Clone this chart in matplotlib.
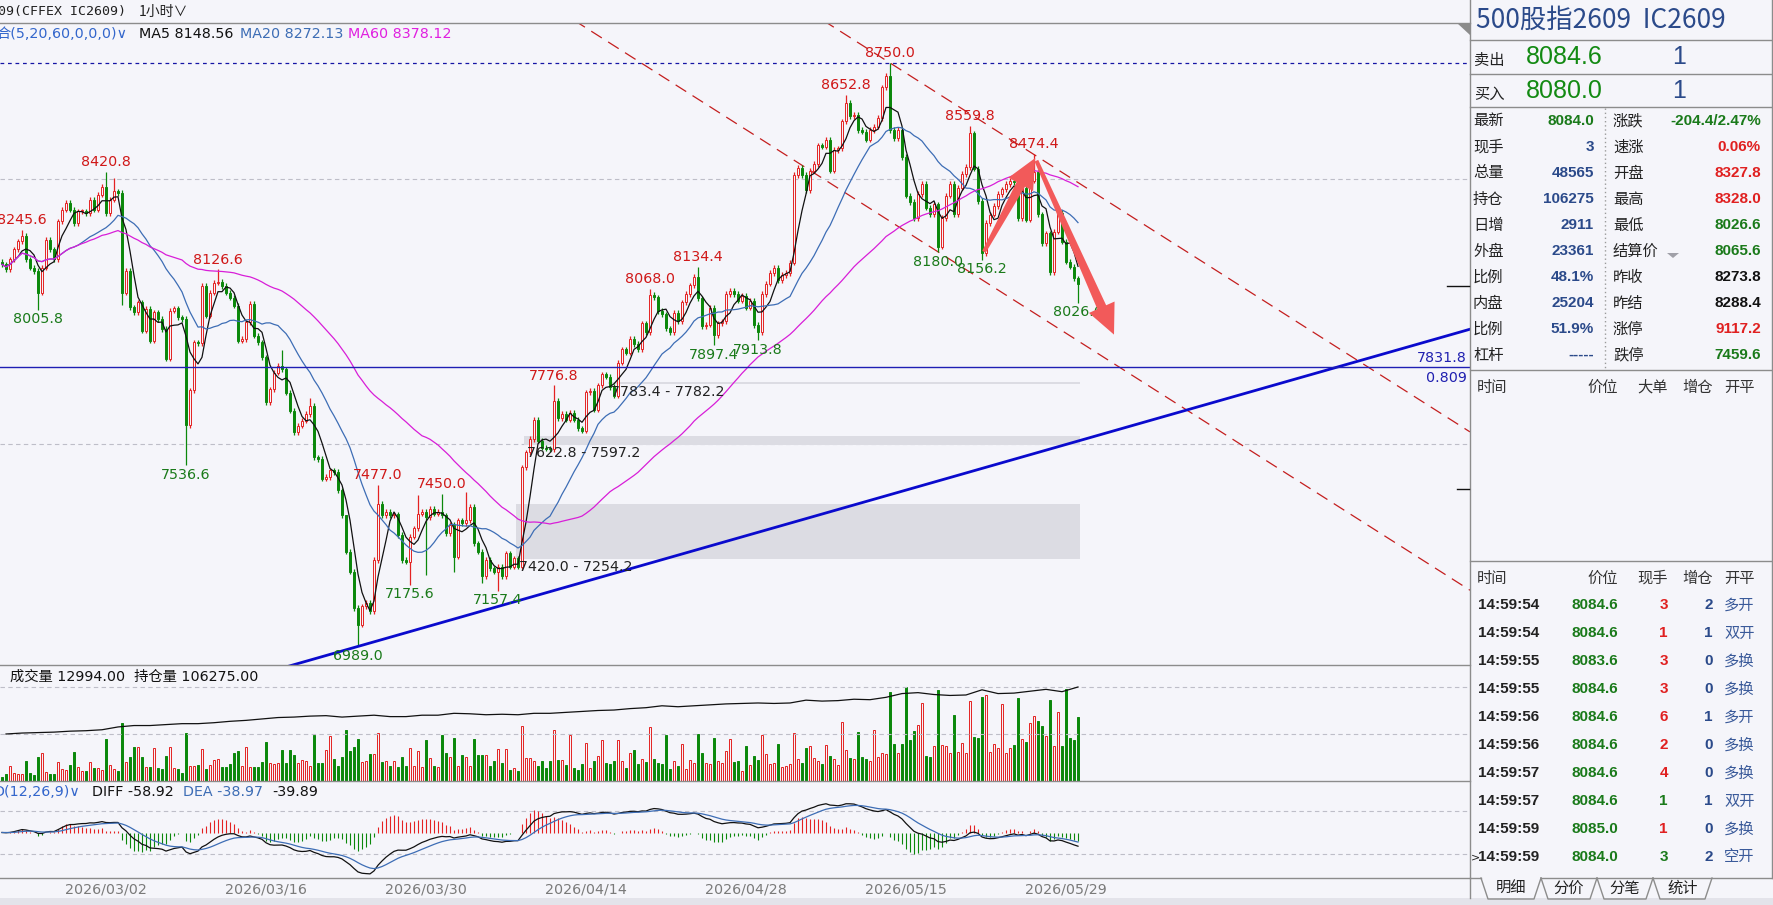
import numpy as np
import pandas as pd
import matplotlib
matplotlib.use('Agg')
import matplotlib.pyplot as plt
from matplotlib.patches import Polygon, Rectangle

plt.rcParams['font.family'] = ['DejaVu Sans', 'Noto Sans CJK SC']
plt.rcParams['axes.unicode_minus'] = False

# ---------------- data ----------------
first_open = 8150.0
close = [
    8142, 8127, 8157, 8187, 8212, 8229, 8157, 8132, 8122, 8057,
    8132, 8217, 8187, 8157, 8272, 8307, 8327, 8307, 8267, 8302,
    8302, 8297, 8337, 8307, 8352, 8377, 8297, 8337, 8362, 8357,
    8057, 8122, 8012, 7997, 8027, 7942, 8007, 7912, 7997, 7977,
    7947, 7857, 8002, 8009, 7982, 7977, 7657, 7762, 7907, 7905,
    8077, 7987, 8057, 8087, 8090, 8077, 8057, 8042, 8017, 7912,
    7917, 7967, 8022, 7927, 7907, 7862, 7727, 7765, 7815, 7835,
    7825, 7755, 7700, 7635, 7655, 7670, 7690, 7715, 7560, 7555,
    7495, 7500, 7520, 7515, 7460, 7385, 7275, 7215, 7105, 7055,
    7110, 7120, 7095, 7250, 7420, 7385, 7395, 7385, 7388, 7325,
    7250, 7245, 7320, 7345, 7390, 7395, 7380, 7405, 7390, 7395,
    7385, 7330, 7355, 7260, 7370, 7360, 7370, 7410, 7300, 7275,
    7200, 7250, 7225, 7215, 7230, 7200, 7270, 7230, 7255, 7230,
    7530, 7575, 7615, 7673, 7610, 7589, 7586, 7584, 7730, 7678,
    7690, 7673, 7694, 7673, 7647, 7640, 7756, 7761, 7704, 7777,
    7810, 7803, 7772, 7746, 7845, 7886, 7876, 7918, 7902, 7886,
    7964, 7938, 8050, 8043, 8001, 7991, 7949, 7938, 7996, 7970,
    8027, 8053, 8079, 8105, 8040, 7955, 7960, 8011, 7928, 7964,
    7970, 8053, 8063, 8053, 8032, 8048, 8011, 8032, 7959, 7938,
    8053, 8084, 8116, 8131, 8095, 8110, 8116, 8147, 8412, 8433,
    8412, 8366, 8425, 8445, 8501, 8497, 8518, 8425, 8487, 8492,
    8574, 8630, 8589, 8594, 8548, 8543, 8518, 8548, 8558, 8584,
    8676, 8712, 8548, 8523, 8548, 8466, 8349, 8330, 8282, 8354,
    8385, 8313, 8293, 8323, 8195, 8282, 8349, 8385, 8293, 8374,
    8415, 8436, 8538, 8431, 8333, 8175, 8267, 8292, 8318, 8354,
    8369, 8385, 8395, 8390, 8282, 8374, 8277, 8395, 8420, 8293,
    8206, 8236, 8119, 8241, 8298, 8211, 8150, 8135, 8100, 8084,
]
volume = [
    830, 1380, 3100, 1720, 1380, 1510, 4120, 1720, 1240, 4810,
    5700, 1860, 1380, 1380, 3920, 2400, 2270, 3300, 5980, 2890,
    2060, 2060, 3850, 2610, 2610, 2200, 8450, 3300, 2400, 2060,
    11820, 3850, 4950, 7010, 7010, 4950, 2890, 2750, 6730, 2610,
    2470, 5080, 6870, 2610, 2340, 1720, 9760, 2950, 2950, 3300,
    6530, 2400, 3230, 4260, 4530, 2750, 2750, 3440, 5630, 6180,
    2950, 6870, 2890, 2890, 2750, 3920, 7900, 3710, 3440, 3570,
    6390, 3570, 6390, 5290, 3570, 4260, 4120, 2950, 9270, 3570,
    3570, 6390, 9070, 4470, 3090, 4950, 10300, 6050, 7010, 8590,
    3780, 4120, 5500, 5500, 9820, 3780, 4120, 3090, 4120, 2750,
    4810, 3090, 6730, 3090, 6180, 2820, 8380, 4670, 3090, 2750,
    9410, 5630, 4810, 8790, 2950, 5360, 4810, 3090, 8590, 5360,
    5360, 5360, 2950, 4120, 6530, 3640, 6530, 2270, 2610, 2060,
    11270, 4670, 4670, 4120, 3090, 4120, 2610, 4120, 10440, 4260,
    4350, 3310, 9320, 2620, 2280, 3450, 7800, 2620, 4140, 5180,
    8280, 3660, 3450, 4140, 8280, 4140, 2620, 5730, 6210, 3450,
    4490, 3930, 10900, 4550, 3730, 3450, 9320, 2420, 4140, 3040,
    7590, 2420, 4280, 3730, 9520, 5590, 3730, 3450, 8830, 4140,
    3730, 6000, 8560, 3930, 4140, 2070, 7040, 3310, 5110, 4350,
    9380, 5520, 3450, 3730, 7590, 2760, 3040, 3450, 9660, 4420,
    3730, 6760, 7040, 4690, 4140, 3450, 7380, 5110, 4420, 3240,
    12010, 6210, 4760, 4490, 9940, 4830, 4490, 4000, 10350, 4970,
    5590, 5520, 18080, 7450, 5730, 7450, 19040, 8280, 10140, 11390,
    15800, 5180, 4830, 7040, 18420, 7250, 7040, 5590, 13460, 5800,
    7660, 5660, 16350, 8970, 8690, 17040, 17390, 5800, 7450, 6690,
    15730, 5660, 6620, 7380, 16770, 8490, 7940, 11800, 13180, 12210,
    11180, 9110, 16560, 7040, 14010, 7040, 18630, 8830, 8280, 12994,
]
# open interest, one point per trading day (last bar of the day)
oi_bar = list(range(1, 270, 4))
oi = [
    86000, 86410, 86610, 86810, 87220, 87420, 87830, 89040, 89650, 89650,
    90060, 90460, 90460, 90870, 91470, 91880, 92490, 93100, 93300, 93710,
    93910, 93300, 93710, 94110, 93500, 93500, 94110, 94110, 94920, 94720,
    94310, 94520, 94310, 94920, 94920, 95330, 95730, 96140, 96340, 96950,
    97350, 98170, 97760, 98170, 98570, 98980, 99180, 99380, 99180, 99380,
    100600, 100190, 100400, 101000, 100800, 101820, 103440, 103840, 103030, 102630,
    102830, 105060, 103440, 103640, 104450, 105260, 104250, 106275,
]
label_hi = {5: 8245.6, 26: 8420.8, 54: 8126.6, 94: 7477.0, 110: 7450.0, 138: 7776.8,
            162: 8068.0, 174: 8134.4, 211: 8652.8, 222: 8750.0, 242: 8559.8, 258: 8474.4}
label_lo = {9: 8005.8, 46: 7536.6, 89: 6989.0, 102: 7175.6, 124: 7157.4, 178: 7897.4,
            189: 7913.8, 234: 8180.0, 245: 8156.2, 269: 8026.6}
extra_hi = {28: 8402, 70: 7885, 77: 7740, 86: 7330, 104: 7445, 116: 7455}
extra_lo = {30: 8020, 106: 7205, 113: 7215, 120: 7180}
date_bar = [26, 66, 106, 146, 186, 226, 266]
date_text = ['2026/03/02', '2026/03/16', '2026/03/30', '2026/04/14',
             '2026/04/28', '2026/05/15', '2026/05/29']
gap_start = [152, 131, 129]
gap_lo = [7782.2, 7597.2, 7254.2]
gap_hi = [7783.4, 7622.8, 7420.0]
gap_text = ['7783.4 - 7782.2', '7622.8 - 7597.2', '7420.0 - 7254.2']
level_price = 7831.8
channel_slope = -7.68           # price per bar
channel_a = (234, 8180.0)
channel_b = (222, 8750.0)
trend_p1 = (89, 6989.0)
trend_p2 = (333.75, 7831.8)

# ---------------- style ----------------
W, H = 1774, 905
BG = '#F5F5FA'
RED = '#E42222'
GREEN = '#0B880B'
LINE = '#8C8C8C'
GRID = '#BEBEC8'
TBLUE = '#2B4A8A'
FS = 10.3

fig = plt.figure(figsize=(W / 100, H / 100), dpi=100)
fig.patch.set_facecolor(BG)


def box(x0, y0, x1, y1):
    a = fig.add_axes([x0 / W, 1 - y1 / H, (x1 - x0) / W, (y1 - y0) / H])
    a.set_facecolor(BG)
    a.set_xticks([])
    a.set_yticks([])
    for s in a.spines.values():
        s.set_visible(False)
    return a


ax = box(0, 23, 1470, 665)
vax = box(0, 665, 1470, 781)
mac = box(0, 781, 1470, 878)
xlo = -0.5
xhi = xlo + 1470 / 4
for a in (ax, vax, mac):
    a.set_xlim(xlo, xhi)
ax.set_ylim(6932.9, 8870.5)

c = np.array(close, float)
o = np.r_[first_open, c[:-1]]
n = len(c)
xb = np.arange(n)
top = np.maximum(o, c)
bot = np.minimum(o, c)
hi = top + 8
lo = bot - 8
for b, v in {**label_hi, **extra_hi}.items():
    hi[b] = v
for b, v in {**label_lo, **extra_lo}.items():
    lo[b] = v
up = c >= o
col = np.where(up, RED, GREEN)

# grid / reference lines
for p in (8400, 7600):
    ax.axhline(p, color=GRID, lw=0.8, ls=(0, (4, 3)), zorder=1)
ax.axhline(8750.0, color='#1515A5', lw=0.9, ls=(0, (3, 3)), zorder=2)

# gap zones
for s, l, h, t in zip(gap_start, gap_lo, gap_hi, gap_text):
    ax.add_patch(Rectangle((s - 0.5, l), n - 0.5 - (s - 0.5), max(h - l, 4),
                           facecolor='#DCDCE3', edgecolor='none', zorder=1.5))
    ax.text(s + 0.3, l - 4, t, fontsize=FS, color='#222222', va='top', ha='left', zorder=6)

# channel + trend lines
xx = np.array([xlo, xhi])
for bx, py in (channel_a, channel_b):
    ax.plot(xx, py + channel_slope * (xx - bx), color='#C41E1E', lw=0.9,
            ls=(0, (10, 6)), zorder=2)
tslope = (trend_p2[1] - trend_p1[1]) / (trend_p2[0] - trend_p1[0])
ax.plot(xx, trend_p1[1] + tslope * (xx - trend_p1[0]), color='#0A0ACD', lw=2.0, zorder=5)
ax.axhline(level_price, color='#1F1FB4', lw=1.0, zorder=5)

# candles
ax.vlines(xb, top, hi, colors=col, lw=0.9, zorder=3)
ax.vlines(xb, lo, bot, colors=col, lw=0.9, zorder=3)
ax.bar(xb, np.maximum(top - bot, 3), bottom=bot, width=0.7,
       facecolor=np.where(up, BG, GREEN), edgecolor=col, linewidth=0.7, zorder=3)

# moving averages
s = pd.Series(c)
ax.plot(xb, s.rolling(5, min_periods=1).mean(), color='#111111', lw=0.9, zorder=4)
ax.plot(xb, s.rolling(20, min_periods=1).mean(), color='#3D6DB5', lw=0.9, zorder=4)
ax.plot(xb, s.rolling(60, min_periods=1).mean(), color='#D81ED8', lw=0.9, zorder=4)

for b, v in label_hi.items():
    ax.annotate(f'{v:.1f}', (b, v), xytext=(0, 2), textcoords='offset points',
                ha='center', va='bottom', fontsize=FS, color='#D01818', zorder=6)
for b, v in label_lo.items():
    ax.annotate(f'{v:.1f}', (b, v), xytext=(0, -2), textcoords='offset points',
                ha='center', va='top', fontsize=FS, color='#1A7A1A', zorder=6)

# ---------------- volume ----------------
vtop = 19100
vax.set_ylim(0, vtop * (781 - 665) / (781 - 687))
for g in (vtop, vtop / 2):
    vax.axhline(g, color=GRID, lw=0.8, ls=(0, (4, 3)))
vax.bar(xb, volume, width=0.72, facecolor=np.where(up, BG, GREEN),
        edgecolor=col, linewidth=0.7)
oax = vax.twinx()
oax.set_ylim(65725, 115764)
oax.set_xlim(xlo, xhi)
oax.set_yticks([])
for sp in oax.spines.values():
    sp.set_visible(False)
oax.plot(oi_bar, oi, color='#111111', lw=0.9)

# ---------------- MACD ----------------
ema12 = s.ewm(span=12, adjust=False).mean()
ema26 = s.ewm(span=26, adjust=False).mean()
diff = ema12 - ema26
dea = diff.ewm(span=9, adjust=False).mean()
hist = 2 * (diff - dea)
mlo = min(diff.min(), dea.min(), hist.min()) * 1.1
mhi = -mlo * (832.5 - 781) / (878 - 832.5)
mac.set_ylim(mlo, mhi)
g = (mhi - mlo) * 21.5 / 97
for gy in (g, -g):
    mac.axhline(gy, color=GRID, lw=0.8, ls=(0, (4, 3)))
mac.vlines(xb, 0, hist, colors=np.where(hist >= 0, RED, GREEN), lw=0.8)
mac.plot(xb, diff, color='#111111', lw=0.9)
mac.plot(xb, dea, color='#3D6DB5', lw=0.9)

# ---------------- overlay in pixel coordinates ----------------
ov = fig.add_axes([0, 0, 1, 1])
ov.set_xlim(0, W)
ov.set_ylim(H, 0)
ov.axis('off')
ov.patch.set_alpha(0)


def hl(y, x0, x1, **kw):
    ov.plot([x0, x1], [y, y], color=kw.get('c', LINE), lw=kw.get('lw', 1.0), ls=kw.get('ls', '-'))


def vl(x, y0, y1, **kw):
    ov.plot([x, x], [y0, y1], color=kw.get('c', LINE), lw=kw.get('lw', 1.0), ls=kw.get('ls', '-'))


def px(b, p):
    dx, dy = ax.transData.transform((b, p))
    return np.array([dx, H - dy])


def arrow(t, h, lh=30, wh=14, wt=2.0, wb=4.8):
    t, h = np.array(t), np.array(h)
    u = (h - t) / np.hypot(*(h - t))
    nrm = np.array([-u[1], u[0]])
    base = h - u * lh
    pts = [t + nrm * wt, base + nrm * wb, base + nrm * wh, h,
           base - nrm * wh, base - nrm * wb, t - nrm * wt]
    ov.add_patch(Polygon(pts, closed=True, facecolor='#F25A5A', edgecolor='none', zorder=10))


arrow(px(245.5, 8180), px(258.3, 8463))
arrow(px(258.6, 8455), px(278.0, 7930))

# frames
hl(23, 0, 1470)
hl(665, 0, 1470)
hl(781, 0, 1470)
hl(878, 0, 1470)
vl(1470, 0, 898)
vl(1772, 0, 878)
ov.add_patch(Polygon([(1457, 23), (1470, 23), (1470, 35)], closed=True,
                     facecolor='#8C8C8C', edgecolor='none'))
ov.add_patch(Rectangle((0, 898), W, 7, facecolor='#E3E3EA', edgecolor='none'))
hl(286, 1447, 1469, c='#111111')
hl(489, 1457, 1469, c='#111111')
ov.text(1467, 358, '7831.8', fontsize=FS, color='#2020B0', ha='right', va='center')
ov.text(1467, 378, '0.809', fontsize=FS, color='#2020B0', ha='right', va='center')

# header texts
ov.text(-2, 12, '09(CFFEX IC2609)', fontsize=9.5, color='#202020', va='center',
        family=['DejaVu Sans Mono', 'Noto Sans CJK SC'])
ov.text(139, 12, '1小时∨', fontsize=10, color='#202020', va='center',
        family=['Noto Sans CJK SC', 'DejaVu Sans'])
ov.text(-4, 34, '合(5,20,60,0,0,0)∨', fontsize=FS, color='#3366CC', va='center')
ov.text(139, 34, 'MA5 8148.56', fontsize=FS, color='#111111', va='center')
ov.text(240, 34, 'MA20 8272.13', fontsize=FS, color='#3D6DB5', va='center')
ov.text(348, 34, 'MA60 8378.12', fontsize=FS, color='#E020E0', va='center')
ov.text(10, 677, '成交量 12994.00  持仓量 106275.00', fontsize=FS, color='#111111', va='center')
ov.text(-6, 792, 'D(12,26,9)∨', fontsize=FS, color='#3366CC', va='center')
ov.text(92, 792, 'DIFF -58.92', fontsize=FS, color='#111111', va='center')
ov.text(183, 792, 'DEA -38.97', fontsize=FS, color='#3D6DB5', va='center')
ov.text(272, 792, '-39.89', fontsize=FS, color='#111111', va='center')
for b, t in zip(date_bar, date_text):
    ov.text(px(b, 8000)[0], 889, t, fontsize=FS, color='#7A7A7A', ha='center', va='center')

# ---------------- right quote panel ----------------
CJ = ['Noto Sans CJK SC', 'DejaVu Sans']
NUM = ['Liberation Sans', 'Noto Sans CJK SC']
VC = {'g': '#1A7A1A', 'b': TBLUE, 'r': '#E02020', 'k': '#111111'}

ov.text(1476, 20, '500股指2609  IC2609', fontsize=19, color=TBLUE, va='center', family=CJ)
for y in (40, 74, 107, 370, 561):
    hl(y, 1470, 1772)
ov.text(1474, 60, '卖出', fontsize=11, color='#222222', va='center', family=CJ)
ov.text(1526, 57, '8084.6', fontsize=18, color='#138A13', va='center', family=NUM)
ov.text(1686, 57, '1', fontsize=18, color=TBLUE, va='center', ha='right', family=NUM)
ov.text(1474, 94, '买入', fontsize=11, color='#222222', va='center', family=CJ)
ov.text(1526, 91, '8080.0', fontsize=18, color='#138A13', va='center', family=NUM)
ov.text(1686, 91, '1', fontsize=18, color=TBLUE, va='center', ha='right', family=NUM)

left_labels = ['最新', '现手', '总量', '持仓', '日增', '外盘', '比例', '内盘', '比例', '杠杆']
left_vals = ['8084.0', '3', '48565', '106275', '2911', '23361', '48.1%', '25204', '51.9%', '-----']
left_cols = ['g', 'b', 'b', 'b', 'b', 'b', 'b', 'b', 'b', 'b']
right_labels = ['涨跌', '速涨', '开盘', '最高', '最低', '结算价', '昨收', '昨结', '涨停', '跌停']
right_vals = ['-204.4/2.47%', '0.06%', '8327.8', '8328.0', '8026.6', '8065.6',
              '8273.8', '8288.4', '9117.2', '7459.6']
right_cols = ['g', 'r', 'r', 'r', 'g', 'g', 'k', 'k', 'r', 'g']
for i in range(10):
    y = 121 + i * 26
    ov.text(1473, y, left_labels[i], fontsize=11, color='#222222', va='center', family=CJ)
    ov.text(1594, y, left_vals[i], fontsize=11, weight='bold', color=VC[left_cols[i]],
            va='center', ha='right', family=NUM)
    ov.text(1613, y, right_labels[i], fontsize=11, color='#222222', va='center', family=CJ)
    ov.text(1761, y, right_vals[i], fontsize=11, weight='bold', color=VC[right_cols[i]],
            va='center', ha='right', family=NUM)
ov.add_patch(Polygon([(1667, 253), (1679, 253), (1673, 258)], closed=True,
                     facecolor='#A0A0A8', edgecolor='none'))
vl(1605, 108, 368, c='#9A9A9A', ls=(0, (1, 2)))

for t, x, ha in (('时间', 1477, 'left'), ('价位', 1618, 'right'), ('大单', 1668, 'right'),
                 ('增仓', 1713, 'right'), ('开平', 1724, 'left')):
    ov.text(x, 387, t, fontsize=11, color='#333333', va='center', ha=ha, family=CJ)
for t, x, ha in (('时间', 1477, 'left'), ('价位', 1618, 'right'), ('现手', 1668, 'right'),
                 ('增仓', 1713, 'right'), ('开平', 1724, 'left')):
    ov.text(x, 578, t, fontsize=11, color='#333333', va='center', ha=ha, family=CJ)

tick_time = ['14:59:54', '14:59:54', '14:59:55', '14:59:55', '14:59:56',
             '14:59:56', '14:59:57', '14:59:57', '14:59:59', '14:59:59']
tick_price = ['8084.6', '8084.6', '8083.6', '8084.6', '8084.6',
              '8084.6', '8084.6', '8084.6', '8085.0', '8084.0']
tick_hand = [3, 1, 3, 3, 6, 2, 4, 1, 1, 3]
tick_hand_col = ['r', 'r', 'r', 'r', 'r', 'r', 'r', 'g', 'r', 'g']
tick_oi = [2, 1, 0, 0, 1, 0, 0, 1, 0, 2]
tick_type = ['多开', '双开', '多换', '多换', '多开', '多换', '多换', '双开', '多换', '空开']
for i in range(10):
    y = 605 + i * 28
    ov.text(1478, y, tick_time[i], fontsize=11, weight='bold', color='#222222',
            va='center', family=NUM)
    ov.text(1618, y, tick_price[i], fontsize=11, weight='bold', color='#1A7A1A',
            va='center', ha='right', family=NUM)
    ov.text(1668, y, str(tick_hand[i]), fontsize=11, weight='bold', color=VC[tick_hand_col[i]],
            va='center', ha='right', family=NUM)
    ov.text(1713, y, str(tick_oi[i]), fontsize=11, weight='bold', color=TBLUE,
            va='center', ha='right', family=NUM)
    ov.text(1724, y, tick_type[i], fontsize=11, color='#3A5A9A', va='center', family=CJ)
ov.text(1470.5, 857, '>', fontsize=8, color='#222222', va='center')

# tabs
hl(878, 1470, 1481)
hl(878, 1541, 1772)
tabs = [('明细', 1481, 1541), ('分价', 1541, 1597), ('分笔', 1597, 1653), ('统计', 1653, 1712)]
for t, a, b in tabs:
    ov.plot([a, a + 7, b - 7, b], [878, 899, 899, 878], color=LINE, lw=1.0)
    ov.text((a + b) / 2, 888, t, fontsize=11, color='#222222', ha='center', va='center', family=CJ)

fig.savefig('out.png', dpi=100, facecolor=BG)
